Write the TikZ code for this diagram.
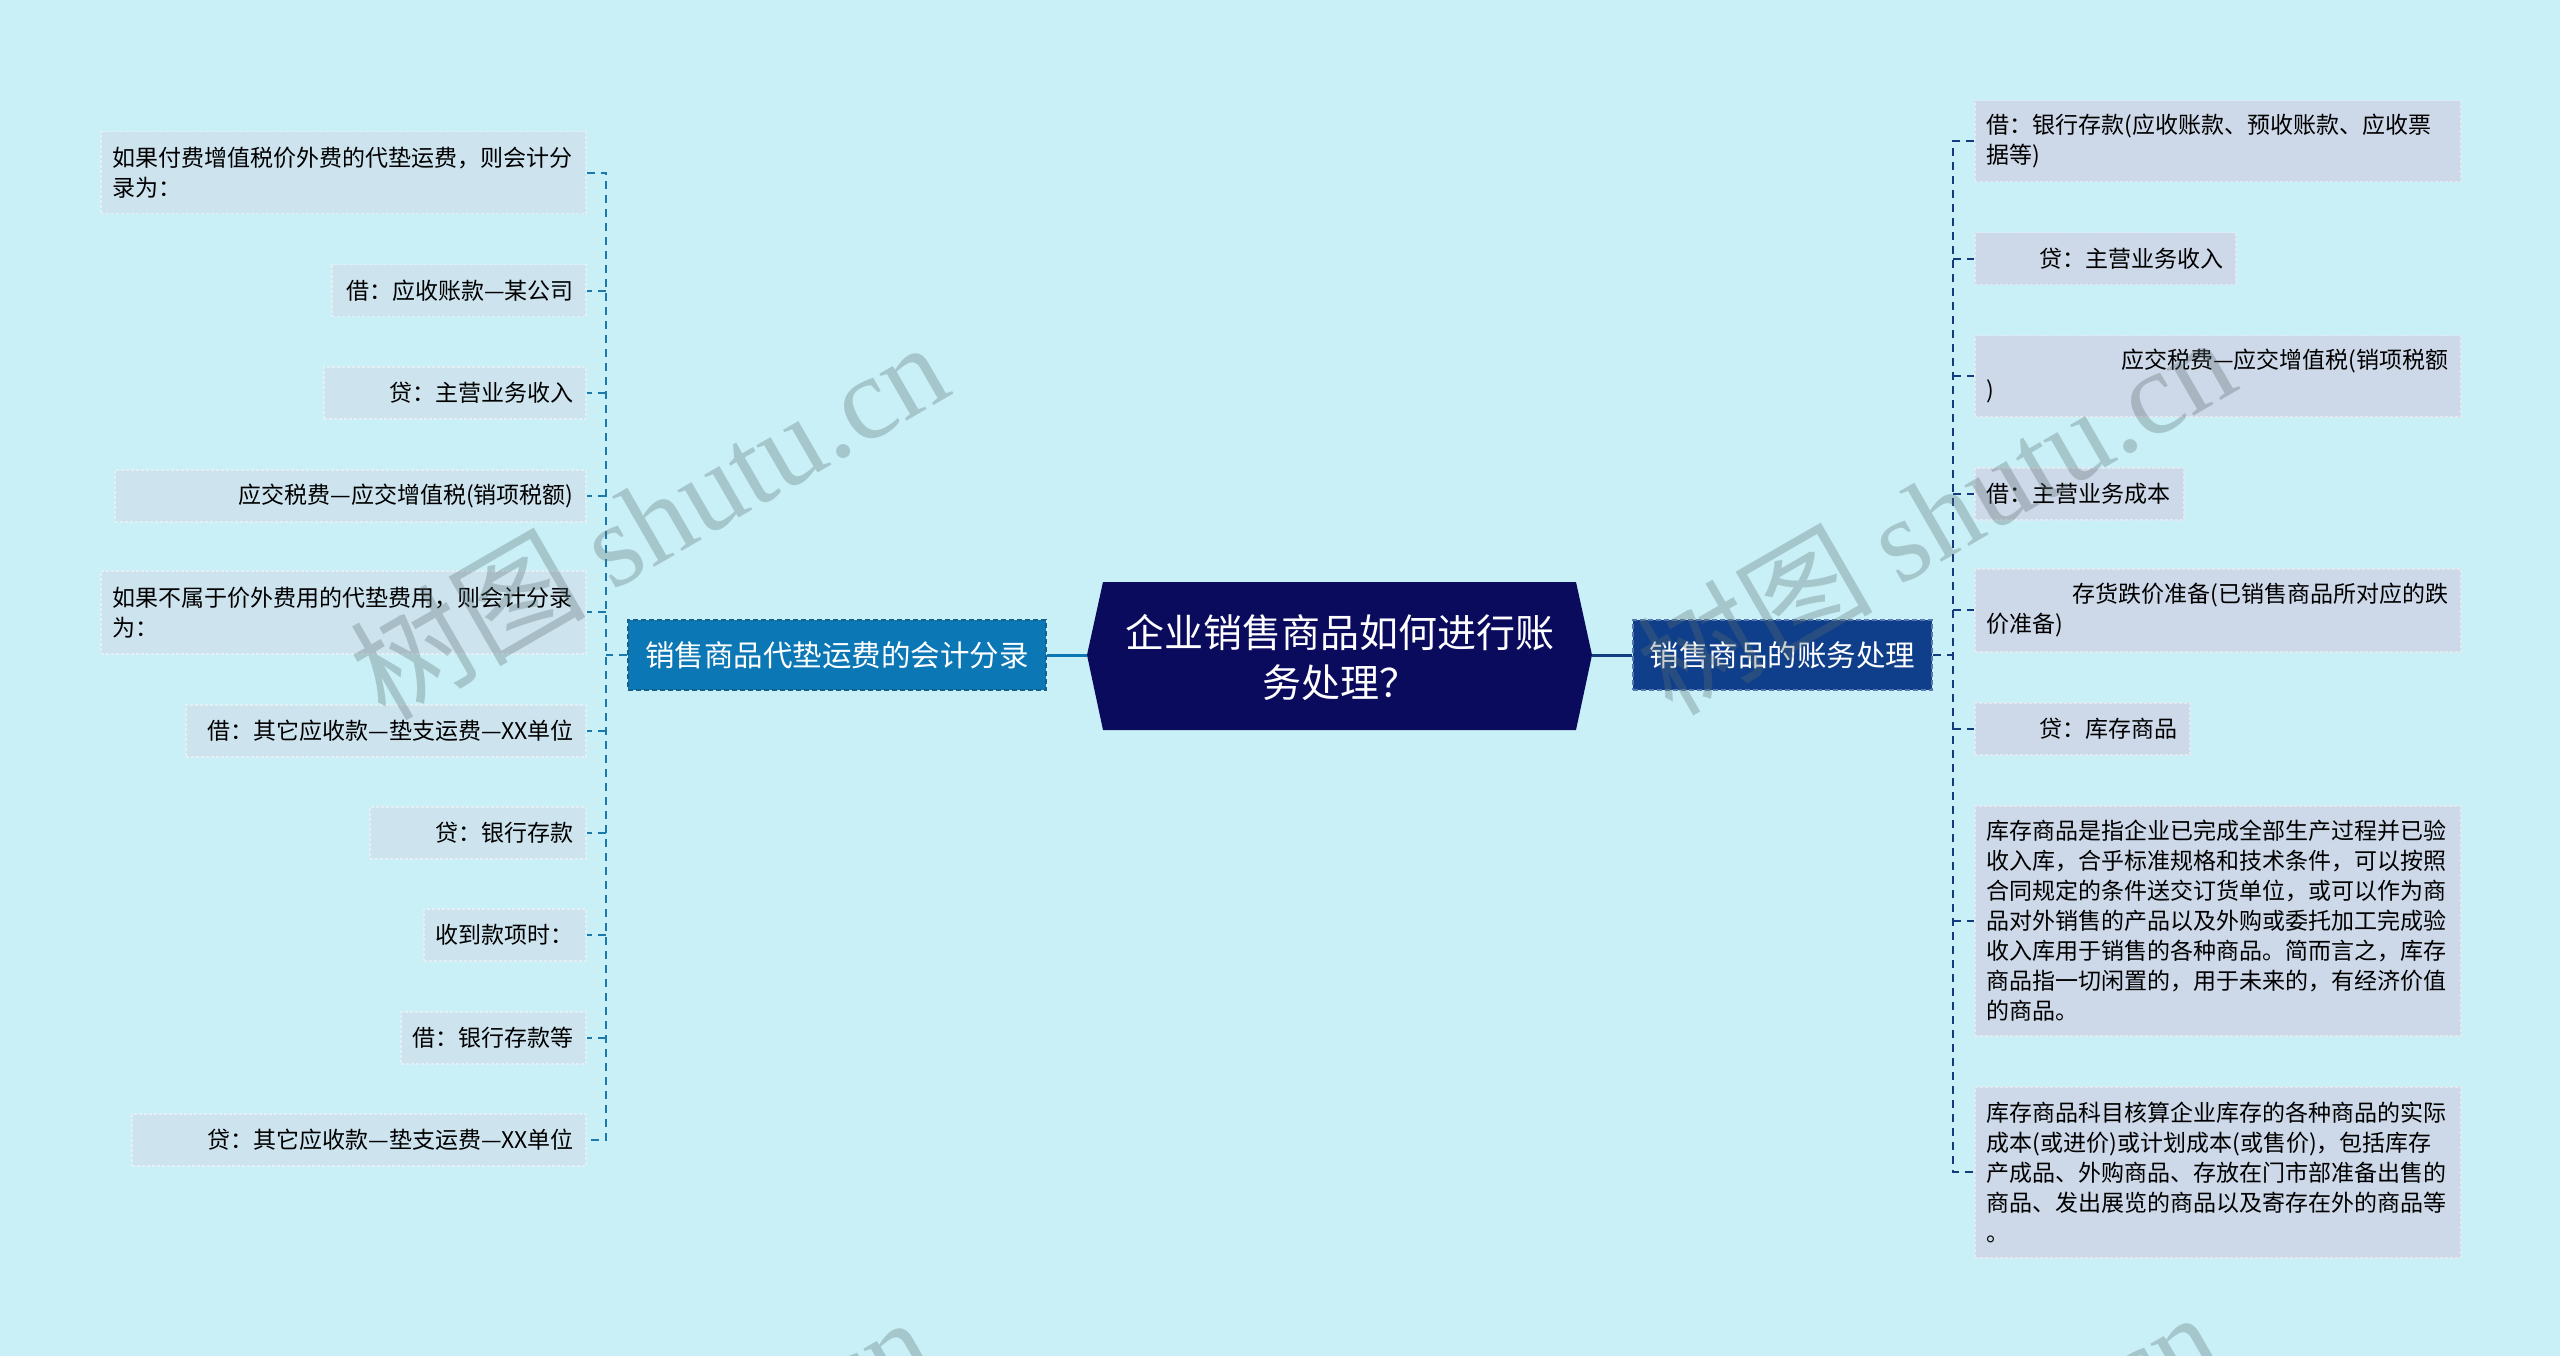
\documentclass[tikz,border=0pt]{standalone}
\usepackage{fontspec}
\setmainfont{Noto Sans CJK SC}
\newfontfamily\wmlatin{Liberation Serif}
\definecolor{bg}{HTML}{C9F0F7}
\definecolor{rootc}{HTML}{0B0B5E}
\definecolor{lmain}{HTML}{0B77B5}
\definecolor{rmain}{HTML}{0F3E8A}
\definecolor{lleaf}{HTML}{CDE3EE}
\definecolor{rleaf}{HTML}{CDD8E8}
\definecolor{lline}{HTML}{1C79AC}
\definecolor{rline}{HTML}{123C7E}
\definecolor{wm}{HTML}{5A6E70}
\tikzset{
  leafbase/.style={anchor=north west, inner xsep=12pt, inner ysep=0pt, text=black,
    line width=1.5pt, dash pattern=on 3pt off 2pt,
    font=\fontsize{23}{30}\selectfont},
  leafL/.style={leafbase, fill=lleaf, draw=lleaf!55!white},
  leafR/.style={leafbase, fill=rleaf, draw=rleaf!55!white},
  mainbox/.style={minimum height=70pt, inner sep=0pt, text=white,
    line width=1.5pt, dash pattern=on 5pt off 3pt,
    font=\fontsize{29.5}{36}\selectfont},
  lspine/.style={draw=lline, line width=2pt, dash pattern=on 8pt off 6pt},
  rspine/.style={draw=rline, line width=2pt, dash pattern=on 8pt off 6pt},
  wmark/.style={text=wm, opacity=0.32, font=\fontsize{118}{120}\selectfont, inner sep=0pt}
}
\begin{document}
\begin{tikzpicture}[x=1pt,y=-1pt]
\useasboundingbox (0,0) rectangle (2560,1356);
\fill[bg] (0,0) rectangle (2560,1356);

% root
\fill[rootc] (1087,655) -- (1103,582) -- (1576,582) -- (1592,655) -- (1576,730) -- (1103,730) -- cycle;
\coordinate (rootL) at (1087,655);
\coordinate (rootR) at (1592,655);
\node[text=white, align=center, font=\fontsize{39}{50}\selectfont, inner sep=0pt] (root) at (1340,658) {企业销售商品如何进行账\\务处理？};

% main branches
\node[mainbox, fill=lmain, draw=lline!80!black, minimum width=418pt] (lm) at (837,655) {销售商品代垫运费的会计分录};
\node[mainbox, fill=rmain, draw=rmain!70!white, minimum width=299pt] (rm) at (1782.5,655) {销售商品的账务处理};

\draw[draw=lmain, line width=3pt] (rootL) -- (lm.east);
\draw[draw=rline, line width=3pt] (rootR) -- (rm.west);

% left leaves
\node[leafL, text width=461pt, minimum height=82pt, align=left] (L1) at (100,131) {如果付费增值税价外费的代垫运费，则会计分\\录为：};
\node[leafL, text width=230pt, minimum height=52pt, align=right] (L2) at (331,264) {借：应收账款—某公司};
\node[leafL, text width=238pt, minimum height=52pt, align=right] (L3) at (323,366) {贷：主营业务收入};
\node[leafL, text width=447pt, minimum height=52pt, align=right] (L4) at (114,469) {应交税费—应交增值税(销项税额)};
\node[leafL, text width=461pt, minimum height=83pt, align=left] (L5) at (100,570) {如果不属于价外费用的代垫费用，则会计分录\\为：};
\node[leafL, text width=376pt, minimum height=52pt, align=right] (L6) at (185,704) {借：其它应收款—垫支运费—XX单位};
\node[leafL, text width=192pt, minimum height=52pt, align=right] (L7) at (369,806) {贷：银行存款};
\node[leafL, text width=138pt, minimum height=52pt, align=right] (L8) at (423,908) {收到款项时：};
\node[leafL, text width=161pt, minimum height=52pt, align=right] (L9) at (400,1011) {借：银行存款等};
\node[leafL, text width=430pt, minimum height=52pt, align=right] (L10) at (131,1113) {贷：其它应收款—垫支运费—XX单位};

% right leaves
\node[leafR, text width=462pt, minimum height=81pt, align=left] (R1) at (1974,100) {借：银行存款(应收账款、预收账款、应收票\\据等)};
\node[leafR, text width=237pt, minimum height=52pt, align=right] (R2) at (1974,232) {贷：主营业务收入};
\node[leafR, text width=462pt, minimum height=81pt, align=left] (R3) at (1974,335) {\null\hfill 应交税费—应交增值税(销项税额\\)};
\node[leafR, text width=185pt, minimum height=52pt, align=left] (R4) at (1974,467) {借：主营业务成本};
\node[leafR, text width=462pt, minimum height=83pt, align=left] (R5) at (1974,568) {\null\hfill 存货跌价准备(已销售商品所对应的跌\\价准备)};
\node[leafR, text width=191pt, minimum height=52pt, align=right] (R6) at (1974,702) {贷：库存商品};
\node[leafR, text width=462pt, minimum height=230pt, align=left] (R7) at (1974,805) {库存商品是指企业已完成全部生产过程并已验\\收入库，合乎标准规格和技术条件，可以按照\\合同规定的条件送交订货单位，或可以作为商\\品对外销售的产品以及外购或委托加工完成验\\收入库用于销售的各种商品。简而言之，库存\\商品指一切闲置的，用于未来的，有经济价值\\的商品。};
\node[leafR, text width=462pt, minimum height=171pt, align=left] (R8) at (1974,1086) {库存商品科目核算企业库存的各种商品的实际\\成本(或进价)或计划成本(或售价)，包括库存\\产成品、外购商品、存放在门市部准备出售的\\商品、发出展览的商品以及寄存在外的商品等\\。};

% left spine
\coordinate (ls) at (606,655);
\draw[lspine] (lm.west) -- (ls);
\draw[lspine] (L1.east) -- (L1.east -| ls) -- (L10.east -| ls) -- (L10.east);
\foreach \n in {L2,L3,L4,L5,L6,L7,L8,L9} {
  \draw[lspine] (\n.east -| ls) -- (\n.east);
}

% right spine
\coordinate (rs) at (1953,655);
\draw[rspine] (rm.east) -- (rs);
\draw[rspine] (R1.west) -- (R1.west -| rs) -- (R8.west -| rs) -- (R8.west);
\foreach \n in {R2,R3,R4,R5,R6,R7} {
  \draw[rspine] (\n.west -| rs) -- (\n.west);
}

% watermarks
\begin{scope}
\clip (0,0) rectangle (2560,1356);
\node[wmark, rotate=30] (wm1) at (648,519) {树图 {\wmlatin shutu.cn}};
\node[wmark, rotate=30] (wm2) at (1935,514) {树图 {\wmlatin shutu.cn}};
\node[wmark, rotate=30] (wm3) at (632,1494) {树图 {\wmlatin shutu.cn}};
\node[wmark, rotate=30] (wm4) at (1919,1489) {树图 {\wmlatin shutu.cn}};
\end{scope}
\end{tikzpicture}
\end{document}
